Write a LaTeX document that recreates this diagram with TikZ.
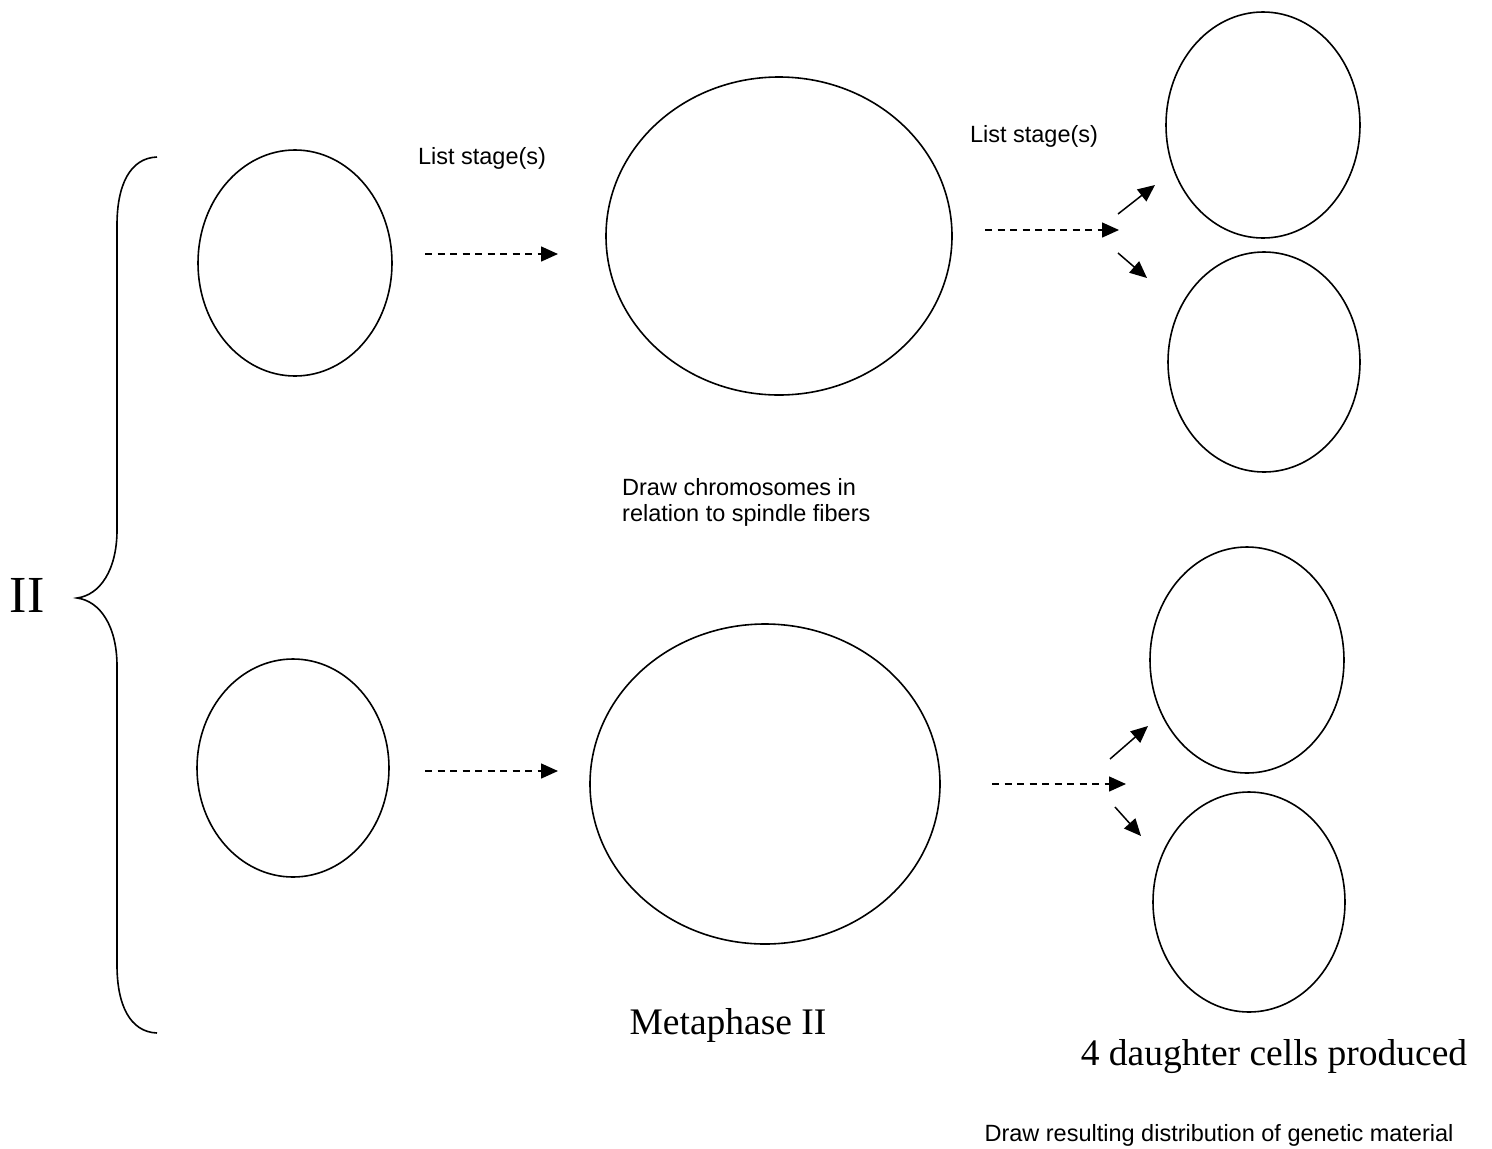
\documentclass[tikz,border=0pt]{standalone}
\usepackage{fontspec}
\setmainfont{Liberation Serif}
\setsansfont{Liberation Sans}
\usetikzlibrary{arrows.meta,shapes.geometric}
\begin{document}
\begin{tikzpicture}[x=1pt,y=-1pt,
  cell/.style={draw,line width=1.6pt,ellipse,inner sep=0pt},
  dasharrow/.style={line width=1.5pt,dash pattern=on 7pt off 5.5pt,-{Triangle[length=17pt,width=15pt]}},
  solidarrow/.style={line width=1.5pt,-{Triangle[length=17pt,width=15pt]}},
  sanslabel/.style={font=\sffamily\fontsize{23.5}{26}\selectfont,inner sep=0pt},
  seriflabel/.style={font=\fontsize{37.5}{44}\selectfont,inner sep=0pt}]
\useasboundingbox (0,0) rectangle (1492,1149);
% cells
\node[cell,minimum width=194pt,minimum height=226pt] (t1) at (295,263) {};
\node[cell,minimum width=346pt,minimum height=318pt] (t2) at (779,236) {};
\node[cell,minimum width=194pt,minimum height=226pt] (t3) at (1263,125) {};
\node[cell,minimum width=192pt,minimum height=220pt] (t4) at (1264,362) {};
\node[cell,minimum width=192pt,minimum height=218pt] (b1) at (293,768) {};
\node[cell,minimum width=350pt,minimum height=320pt] (b2) at (765,784) {};
\node[cell,minimum width=194pt,minimum height=226pt] (b3) at (1247,660) {};
\node[cell,minimum width=192pt,minimum height=220pt] (b4) at (1249,902) {};
% arrow end points
\coordinate (a1s) at (425,254); \coordinate (a1e) at (558,254);
\coordinate (a2s) at (985,230); \coordinate (a2e) at (1119,230);
\coordinate (a3s) at (1118,214); \coordinate (a3e) at (1155,185);
\coordinate (a4s) at (1118,253); \coordinate (a4e) at (1147,278);
\coordinate (b1s) at (425,771); \coordinate (b1e) at (558,771);
\coordinate (b2s) at (992,784); \coordinate (b2e) at (1126,784);
\coordinate (b3s) at (1110,759); \coordinate (b3e) at (1148,726);
\coordinate (b4s) at (1115,807); \coordinate (b4e) at (1141,836);
\draw[dasharrow] (a1s) -- (a1e);
\draw[dasharrow] (a2s) -- (a2e);
\draw[solidarrow] (a3s) -- (a3e);
\draw[solidarrow] (a4s) -- (a4e);
\draw[dasharrow] (b1s) -- (b1e);
\draw[dasharrow] (b2s) -- (b2e);
\draw[solidarrow] (b3s) -- (b3e);
\draw[solidarrow] (b4s) -- (b4e);
% brace
\draw[line width=1.6pt] (157,157) .. controls (130,158) and (117,185) .. (117,225)
  -- (117,530) .. controls (117,570) and (100,595) .. (77,598)
  .. controls (100,601) and (117,626) .. (117,666)
  -- (117,965) .. controls (117,1005) and (130,1032) .. (157,1033);
% labels
\node[inner sep=0pt,font=\fontsize{52}{60}\selectfont] (two) at (27,595) {II};
\node[sanslabel] (ls1) at (482,158) {List stage(s)};
\node[sanslabel] (ls2) at (1034,136) {List stage(s)};
\node[sanslabel,align=left,anchor=north west] (dc) at (622,478) {Draw chromosomes in\\relation to spindle fibers};
\node[seriflabel] (meta) at (728,1025) {Metaphase II};
\node[seriflabel] (four) at (1274,1057) {4 daughter cells produced};
\node[sanslabel] (dr) at (1219,1135) {Draw resulting distribution of genetic material};
\end{tikzpicture}
\end{document}
